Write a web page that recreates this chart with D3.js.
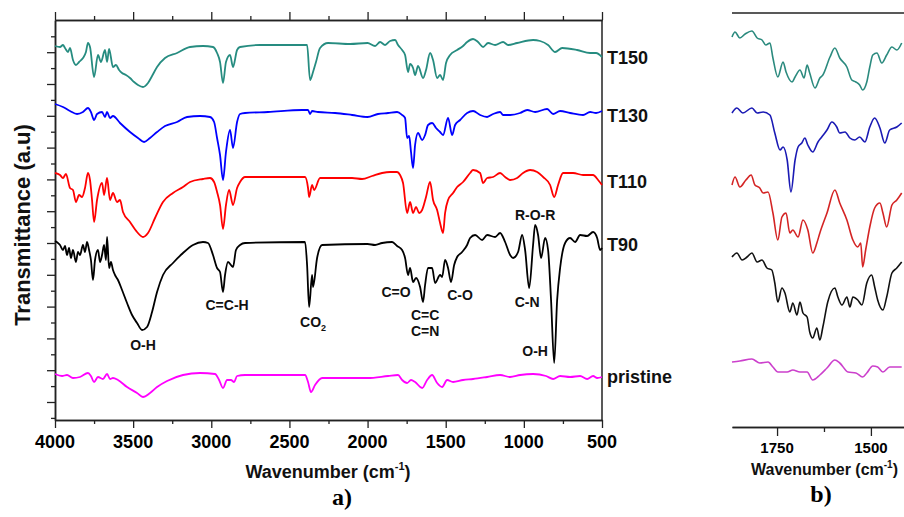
<!DOCTYPE html>
<html>
<head>
<meta charset="utf-8">
<script src="https://cdnjs.cloudflare.com/ajax/libs/d3/7.8.5/d3.min.js"></script>
<style>
body { margin: 0; background: #fff; }
svg { display: block; }
</style>
</head>
<body>
<svg></svg>
<script>
// panel a: [wavenumber cm-1, transmittance a.u. (curves stacked)]
var t150 = [[4000,356],[3968,355],[3949,357],[3936,354],[3917,350],[3904,354],[3885,342],[3866,337],[3846,340],[3821,344],[3802,350],[3789,359],[3776,355],[3750,325],[3725,347],[3706,340],[3680,352],[3667,340],[3654,353],[3629,335],[3610,337],[3590,332],[3571,329],[3546,327],[3520,324],[3494,320],[3469,317],[3437,315],[3405,319],[3379,326],[3347,335],[3296,344],[3219,349],[3136,355],[3053,356],[2989,355],[2963,349],[2944,340],[2925,319],[2906,340],[2880,347],[2861,335],[2835,352],[2816,355],[2688,357],[2387,357],[2368,322],[2349,330],[2330,340],[2304,354],[2253,359],[2112,358],[2000,359],[1952,356],[1920,360],[1888,357],[1856,361],[1824,362],[1805,357],[1779,352],[1760,347],[1741,330],[1728,338],[1709,334],[1696,327],[1677,336],[1645,324],[1626,332],[1600,349],[1581,342],[1555,324],[1536,327],[1517,322],[1498,339],[1472,347],[1427,352],[1389,356],[1363,360],[1325,363],[1293,360],[1261,355],[1229,359],[1184,357],[1133,360],[1101,357],[1043,359],[941,362],[896,361],[845,357],[800,350],[755,354],[659,352],[576,349],[538,349],[500,345]];
var t130 = [[4000,298],[3949,295],[3904,291],[3859,288],[3821,290],[3789,294],[3770,290],[3750,282],[3731,288],[3699,290],[3680,285],[3667,290],[3648,284],[3629,286],[3584,279],[3520,270],[3469,264],[3430,260],[3392,264],[3347,270],[3296,276],[3219,280],[3155,285],[3072,286],[3008,285],[2982,280],[2963,264],[2944,247],[2925,222],[2906,250],[2880,272],[2861,254],[2835,280],[2816,288],[2784,289],[2637,290],[2419,292],[2381,292],[2368,288],[2355,291],[2317,290],[2208,289],[2099,287],[2000,285],[1933,288],[1869,289],[1811,290],[1779,287],[1760,284],[1747,264],[1734,266],[1722,250],[1709,234],[1696,257],[1677,269],[1651,262],[1632,267],[1613,277],[1587,279],[1562,274],[1536,270],[1517,267],[1485,284],[1459,267],[1440,277],[1408,282],[1363,289],[1325,291],[1280,287],[1235,285],[1197,288],[1152,290],[1133,287],[1088,287],[1024,289],[979,292],[928,290],[851,293],[813,288],[768,291],[704,289],[621,287],[576,290],[538,289],[500,291]];
var t110 = [[4000,229],[3968,227],[3949,224],[3930,228],[3904,214],[3885,212],[3866,200],[3846,207],[3827,205],[3808,214],[3789,229],[3776,222],[3763,202],[3750,180],[3731,202],[3699,219],[3686,207],[3667,224],[3648,202],[3629,209],[3603,200],[3584,202],[3565,190],[3520,180],[3475,170],[3437,165],[3405,169],[3360,184],[3309,200],[3245,209],[3181,215],[3136,220],[3053,223],[3008,224],[2982,220],[2963,210],[2944,197],[2925,173],[2906,197],[2886,212],[2861,197],[2835,214],[2816,220],[2784,225],[2400,225],[2381,214],[2374,205],[2355,217],[2342,212],[2304,224],[2099,224],[2035,223],[1971,226],[1907,229],[1856,230],[1811,230],[1792,227],[1773,219],[1747,189],[1728,200],[1709,189],[1690,195],[1670,189],[1651,192],[1626,205],[1600,220],[1581,202],[1555,192],[1536,179],[1517,169],[1504,189],[1485,202],[1453,209],[1427,215],[1389,220],[1344,229],[1325,232],[1280,229],[1261,219],[1235,224],[1197,225],[1152,229],[1120,225],[1088,222],[1043,224],[1005,229],[960,232],[915,230],[877,225],[832,217],[806,205],[781,217],[749,229],[685,229],[621,227],[557,227],[525,222],[500,217]];
var t90 = [[4000,161],[3981,159],[3968,157],[3949,152],[3936,156],[3923,147],[3910,154],[3898,144],[3885,152],[3866,140],[3853,150],[3840,147],[3821,157],[3808,150],[3795,160],[3782,152],[3770,142],[3757,122],[3744,142],[3725,152],[3712,140],[3699,147],[3686,157],[3674,142],[3667,165],[3654,134],[3642,140],[3629,132],[3616,127],[3597,122],[3571,112],[3539,99],[3507,87],[3475,79],[3443,72],[3411,75],[3379,90],[3347,110],[3309,127],[3245,139],[3181,149],[3117,157],[3053,160],[3021,159],[2989,147],[2963,134],[2944,130],[2925,110],[2912,127],[2893,140],[2861,135],[2842,152],[2816,157],[2784,159],[2400,160],[2387,137],[2374,95],[2355,127],[2349,115],[2323,144],[2291,157],[2000,158],[1952,157],[1907,159],[1843,160],[1811,156],[1779,152],[1760,144],[1741,127],[1728,134],[1709,120],[1690,124],[1664,115],[1645,100],[1632,117],[1613,134],[1587,134],[1568,119],[1536,127],[1523,125],[1504,142],[1485,134],[1466,120],[1446,137],[1427,145],[1395,150],[1363,157],[1344,164],[1312,167],[1267,162],[1235,167],[1184,165],[1152,169],[1120,160],[1088,147],[1069,144],[1037,150],[1011,167],[992,152],[966,114],[941,157],[928,177],[909,167],[890,144],[864,164],[845,152],[826,102],[806,39],[787,102],[768,134],[736,159],[704,164],[672,160],[640,167],[595,166],[557,170],[531,164],[512,152],[500,154]];
var pristine = [[4000,28],[3955,26],[3923,27],[3885,24],[3840,25],[3789,29],[3770,26],[3750,20],[3725,25],[3693,23],[3667,28],[3648,23],[3629,24],[3597,22],[3539,15],[3475,9],[3437,5],[3392,9],[3347,15],[3283,21],[3181,27],[3072,29],[2976,28],[2950,22],[2925,14],[2899,22],[2874,22],[2854,20],[2835,26],[2784,27],[2400,27],[2381,20],[2362,10],[2336,17],[2291,24],[2000,24],[1869,26],[1805,27],[1779,22],[1747,19],[1722,22],[1696,20],[1651,14],[1619,22],[1587,27],[1555,19],[1523,15],[1491,22],[1453,20],[1389,22],[1325,23],[1235,25],[1152,27],[1088,25],[1024,27],[941,28],[858,26],[813,23],[768,26],[704,25],[640,26],[595,23],[557,26],[531,24],[500,25]];

// panel b: zoom 1870-1300 cm-1
var t150b = [[1870,390],[1862,395],[1849,389],[1835,393],[1817,396],[1803,389],[1790,387],[1780,382],[1769,384],[1761,369],[1748,350],[1734,365],[1726,355],[1710,345],[1702,350],[1689,357],[1678,349],[1670,362],[1663,354],[1649,339],[1636,349],[1628,352],[1609,370],[1596,379],[1583,369],[1564,360],[1551,347],[1540,345],[1530,342],[1522,337],[1511,345],[1503,360],[1495,372],[1484,374],[1471,364],[1458,372],[1444,380],[1431,377],[1418,384]];
var t130b = [[1870,314],[1857,319],[1841,314],[1817,319],[1803,314],[1787,315],[1769,312],[1756,294],[1742,277],[1734,280],[1723,267],[1713,235],[1702,267],[1694,280],[1684,284],[1676,289],[1668,282],[1655,275],[1641,285],[1631,290],[1617,297],[1604,305],[1591,300],[1583,294],[1569,295],[1556,289],[1543,287],[1530,290],[1516,285],[1503,300],[1490,309],[1476,299],[1463,284],[1450,297],[1431,300],[1418,304]];
var t110b = [[1870,242],[1862,250],[1849,240],[1833,247],[1819,252],[1809,242],[1796,239],[1787,234],[1774,235],[1761,214],[1748,187],[1737,210],[1726,214],[1716,194],[1708,197],[1694,190],[1681,207],[1668,197],[1655,174],[1644,184],[1636,194],[1617,214],[1596,237],[1583,224],[1564,207],[1548,187],[1535,180],[1527,184],[1522,160],[1514,177],[1503,200],[1490,219],[1476,224],[1468,214],[1458,200],[1444,222],[1431,227],[1418,234]];
var t90b = [[1870,170],[1857,174],[1843,167],[1830,170],[1817,174],[1803,165],[1790,167],[1777,159],[1764,157],[1756,144],[1748,125],[1737,139],[1729,134],[1716,115],[1708,124],[1697,112],[1689,125],[1681,114],[1670,110],[1663,95],[1655,89],[1644,99],[1636,87],[1628,100],[1615,125],[1596,139],[1588,130],[1577,122],[1564,130],[1556,120],[1548,130],[1535,127],[1524,122],[1511,144],[1498,152],[1490,140],[1482,127],[1468,117],[1458,130],[1444,154],[1431,159],[1418,165]];
var pristineb = [[1870,65],[1849,66],[1817,68],[1796,64],[1774,65],[1761,60],[1748,55],[1723,55],[1708,57],[1689,55],[1670,55],[1655,47],[1636,52],[1617,59],[1596,67],[1583,64],[1561,55],[1540,54],[1522,50],[1511,54],[1495,61],[1482,60],[1468,55],[1450,60],[1418,60]];

var seriesNames = ["T150", "T130", "T110", "T90", "pristine"];
var labelLevels = [338, 280, 214, 151, 19];
var xTicksA = [4000, 3500, 3000, 2500, 2000, 1500, 1000, 500];
var xTicksB = [1750, 1500];

// band assignments on the T90 curve: [label, wavenumber, level]
var bands = [
    ["O-H", 3437, 52],
    ["C=C-H", 2899, 92],
    ["C=O", 1818, 105],
    ["C=C", 1632, 82],
    ["C=N", 1632, 66],
    ["C-O", 1408, 102],
    ["C-N", 979, 95],
    ["O-H", 928, 46],
    ["R-O-R", 928, 182]
];
var co2Band = [2349, 75];

var colorsA = ["#268c80", "#0000ff", "#ff0000", "#000000", "#ff00ff"];
var colorsB = ["#2b8a7e", "#1a1ab4", "#d42424", "#111111", "#cc40cc"];

var w = 904;
var h = 517;
var sans = "'Liberation Sans', Arial, sans-serif";
var serif = "'Liberation Serif', 'Times New Roman', serif";

var svg = d3.select("svg")
    .attr("width", w)
    .attr("height", h);

var xA = d3.scaleLinear().domain([4000, 500]).range([55, 602]);
var yA = d3.scaleLinear().domain([-18, 382]).range([420, 20]);
var xB = d3.scaleLinear().domain([1870, 1300]).range([732, 946]);
var yB = d3.scaleLinear().domain([0, 414]).range([427, 13]);

var axisColor = "#222";

function styleAxis(g) {
    g.selectAll("path").attr("stroke", axisColor).attr("stroke-width", 1.5);
    g.selectAll("line").attr("stroke", axisColor).attr("stroke-width", 1.3);
    g.selectAll("text").remove();
}

// panel a axes
var majorX = d3.range(500, 4001, 500);
var minorX = d3.range(750, 4000, 500);
svg.append("g").attr("transform", "translate(0,420)")
    .call(d3.axisBottom(xA).tickValues(majorX).tickSize(8).tickSizeOuter(0)).call(styleAxis);
svg.append("g").attr("transform", "translate(0,420)")
    .call(d3.axisBottom(xA).tickValues(minorX).tickSize(4).tickSizeOuter(0)).call(styleAxis);
svg.append("g").attr("transform", "translate(0,20)")
    .call(d3.axisTop(xA).tickValues(majorX).tickSize(8).tickSizeOuter(0)).call(styleAxis);
svg.append("g").attr("transform", "translate(0,20)")
    .call(d3.axisTop(xA).tickValues(minorX).tickSize(4).tickSizeOuter(0)).call(styleAxis);

var majorY = d3.range(0, 360, 31.8);
var minorY = d3.range(-15.9, 380, 31.8);
svg.append("g").attr("transform", "translate(55,0)")
    .call(d3.axisLeft(yA).tickValues(majorY).tickSize(8).tickSizeOuter(0)).call(styleAxis);
svg.append("g").attr("transform", "translate(55,0)")
    .call(d3.axisLeft(yA).tickValues(minorY).tickSize(4).tickSizeOuter(0)).call(styleAxis);
svg.append("line")
    .attr("x1", 602).attr("x2", 602).attr("y1", 20).attr("y2", 420)
    .attr("stroke", axisColor).attr("stroke-width", 1.5);

svg.selectAll(".xlabA")
    .data(xTicksA)
    .enter()
    .append("text")
    .attr("x", function (d) { return xA(d); })
    .attr("y", 448)
    .attr("text-anchor", "middle")
    .attr("font-family", sans)
    .attr("font-weight", "bold")
    .attr("font-size", "18px")
    .text(function (d) { return d; });

// panel b axes
svg.append("g").attr("transform", "translate(0,427)")
    .call(d3.axisBottom(xB).tickValues(xTicksB).tickSize(9).tickSizeOuter(0)).call(styleAxis);
svg.append("g").attr("transform", "translate(0,427)")
    .call(d3.axisBottom(xB).tickValues([1625, 1375]).tickSize(5).tickSizeOuter(0)).call(styleAxis);
svg.append("line")
    .attr("x1", xB.range()[0]).attr("x2", xB.range()[1]).attr("y1", 13).attr("y2", 13)
    .attr("stroke", axisColor).attr("stroke-width", 1.5);

svg.selectAll(".xlabB")
    .data(xTicksB)
    .enter()
    .append("text")
    .attr("x", function (d) { return xB(d); })
    .attr("y", 453)
    .attr("text-anchor", "middle")
    .attr("font-family", sans)
    .attr("font-weight", "bold")
    .attr("font-size", "15px")
    .text(function (d) { return d; });

// curves
var lineA = d3.line()
    .x(function (d) { return xA(d[0]); })
    .y(function (d) { return yA(d[1]); })
    .curve(d3.curveMonotoneX);
var lineB = d3.line()
    .x(function (d) { return xB(d[0]); })
    .y(function (d) { return yB(d[1]); })
    .curve(d3.curveMonotoneX);

var seriesA = [t150, t130, t110, t90, pristine];
var seriesB = [t150b, t130b, t110b, t90b, pristineb];

svg.selectAll(".curveA")
    .data(seriesA)
    .enter()
    .append("path")
    .attr("d", lineA)
    .attr("fill", "none")
    .attr("stroke", function (d, i) { return colorsA[i]; })
    .attr("stroke-width", 1.8)
    .attr("stroke-linejoin", "round");

svg.selectAll(".curveB")
    .data(seriesB)
    .enter()
    .append("path")
    .attr("d", lineB)
    .attr("fill", "none")
    .attr("stroke", function (d, i) { return colorsB[i]; })
    .attr("stroke-width", 1.6)
    .attr("stroke-linejoin", "round");

// series names at right edge
svg.selectAll(".sname")
    .data(seriesNames)
    .enter()
    .append("text")
    .attr("x", 607)
    .attr("y", function (d, i) { return yA(labelLevels[i]); })
    .attr("font-family", sans)
    .attr("font-weight", "bold")
    .attr("font-size", "18px")
    .attr("fill", "#111")
    .text(function (d) { return d; });

// band labels
svg.selectAll(".band")
    .data(bands)
    .enter()
    .append("text")
    .attr("x", function (d) { return xA(d[1]); })
    .attr("y", function (d) { return yA(d[2]); })
    .attr("text-anchor", "middle")
    .attr("font-family", sans)
    .attr("font-weight", "bold")
    .attr("font-size", "14px")
    .attr("fill", "#111")
    .text(function (d) { return d[0]; });

var co2 = svg.append("text")
    .attr("x", xA(co2Band[0]))
    .attr("y", yA(co2Band[1]))
    .attr("text-anchor", "middle")
    .attr("font-family", sans)
    .attr("font-weight", "bold")
    .attr("font-size", "14px")
    .attr("fill", "#111");
co2.append("tspan").text("CO");
co2.append("tspan").attr("font-size", "9px").attr("dy", 4).text("2");

// axis titles
svg.append("text")
    .attr("transform", "translate(30,225) rotate(-90)")
    .attr("text-anchor", "middle")
    .attr("font-family", sans)
    .attr("font-weight", "bold")
    .attr("font-size", "22px")
    .attr("fill", "#111")
    .text("Transmittance (a.u)");

function wavenumberTitle(x, y, size, anchor) {
    var t = svg.append("text")
        .attr("x", x)
        .attr("y", y)
        .attr("text-anchor", anchor)
        .attr("font-family", sans)
        .attr("font-weight", "bold")
        .attr("font-size", size + "px")
        .attr("fill", "#111");
    t.append("tspan").text("Wavenumber (cm");
    t.append("tspan").attr("font-size", Math.round(size * 0.6) + "px").attr("dy", -size * 0.45).text("-1");
    t.append("tspan").attr("dy", size * 0.45).text(")");
}
wavenumberTitle(328, 478, 18, "middle");
wavenumberTitle(751, 475, 16, "start");

svg.append("text")
    .attr("x", 342).attr("y", 505)
    .attr("text-anchor", "middle")
    .attr("font-family", serif)
    .attr("font-weight", "bold")
    .attr("font-size", "24px")
    .text("a)");
svg.append("text")
    .attr("x", 821).attr("y", 502)
    .attr("text-anchor", "middle")
    .attr("font-family", serif)
    .attr("font-weight", "bold")
    .attr("font-size", "24px")
    .text("b)");
</script>
</body>
</html>
